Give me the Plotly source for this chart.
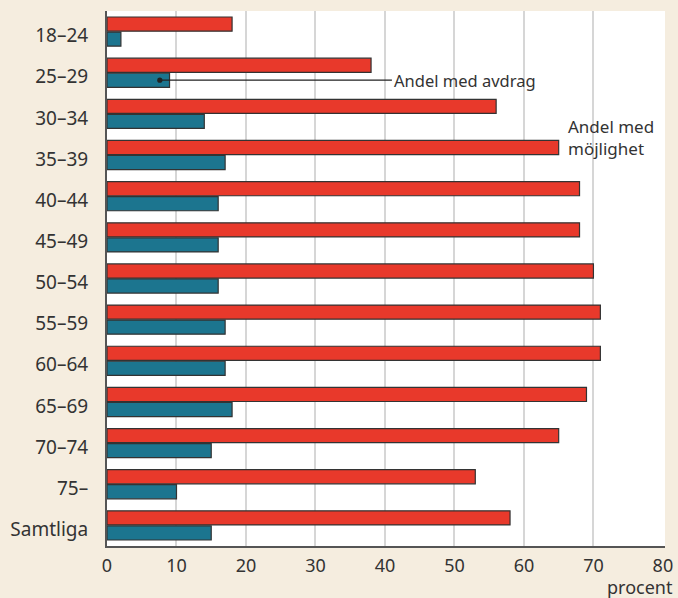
import plotly.graph_objects as go

categories = ["18–24", "25–29", "30–34", "35–39", "40–44", "45–49", "50–54",
              "55–59", "60–64", "65–69", "70–74", "75–", "Samtliga"]
mojlighet = [18, 38, 56, 65, 68, 68, 70, 71, 71, 69, 65, 53, 58]
avdrag = [2, 9, 14, 17, 16, 16, 16, 17, 17, 18, 15, 10, 15]
x_ticks = [0, 10, 20, 30, 40, 50, 60, 70, 80]
grid_vals = [10, 20, 30, 40, 50, 60, 70]

RED = "#e8392b"
BLUE = "#1c758f"
OUTLINE = "#333333"
BG = "#f5eddf"
FONT = "Noto Sans"

fig = go.Figure()
fig.add_trace(go.Bar(y=categories, x=mojlighet, orientation="h", name="Andel med möjlighet",
                     marker=dict(color=RED, line=dict(color=OUTLINE, width=1.2))))
fig.add_trace(go.Bar(y=categories, x=avdrag, orientation="h", name="Andel med avdrag",
                     marker=dict(color=BLUE, line=dict(color=OUTLINE, width=1.2))))

fig.update_layout(
    width=678, height=598,
    margin=dict(l=107, r=13, t=11, b=52, autoexpand=False),
    paper_bgcolor=BG, plot_bgcolor="white",
    barmode="group", bargap=0.27, bargroupgap=0.06,
    showlegend=False,
    font=dict(family=FONT, color="#333333", size=17),
    xaxis=dict(range=[0, 80.3], tickmode="array", tickvals=x_ticks,
               showgrid=False, zeroline=False, automargin=False,
               showline=True, linecolor="#555555", linewidth=2,
               ticks="", ticklabelstandoff=2, tickfont=dict(size=18, color="#333333"),
               minor=dict(tickmode="array", tickvals=grid_vals, showgrid=True,
                          gridcolor="#d6d6d6", gridwidth=1.5, ticks="")),
    yaxis=dict(autorange="reversed", showgrid=False, zeroline=False, automargin=False,
               showline=True, linecolor="#555555", linewidth=2,
               ticks="", ticklabelstandoff=13, ticklabelshift=-4,
               tickfont=dict(size=19, color="#333333")),
)

fig.add_annotation(x=7.6, y=1.18, xref="x", yref="y",
                   ax=41.0, ay=1.18, axref="x", ayref="y",
                   text="Andel med avdrag", showarrow=True,
                   arrowhead=6, arrowsize=1, arrowwidth=1.3, arrowcolor="#222222",
                   xanchor="left", yanchor="middle", standoff=0,
                   font=dict(size=16.5, color="#333333"))
fig.add_annotation(x=66.0, y=3.02, xref="x", yref="y", text="Andel med<br>möjlighet",
                   showarrow=False, xanchor="left", yanchor="bottom", align="left",
                   yshift=-6, font=dict(size=17, color="#333333"))
fig.add_annotation(x=1, y=0, xref="paper", yref="paper", text="procent",
                   showarrow=False, xanchor="right", yanchor="middle", xshift=10, yshift=-41,
                   font=dict(size=18, color="#333333"))

fig.write_html("out.html", config={"displayModeBar": False},
               post_script="document.body.style.margin='0';document.body.style.background='%s';" % BG)
